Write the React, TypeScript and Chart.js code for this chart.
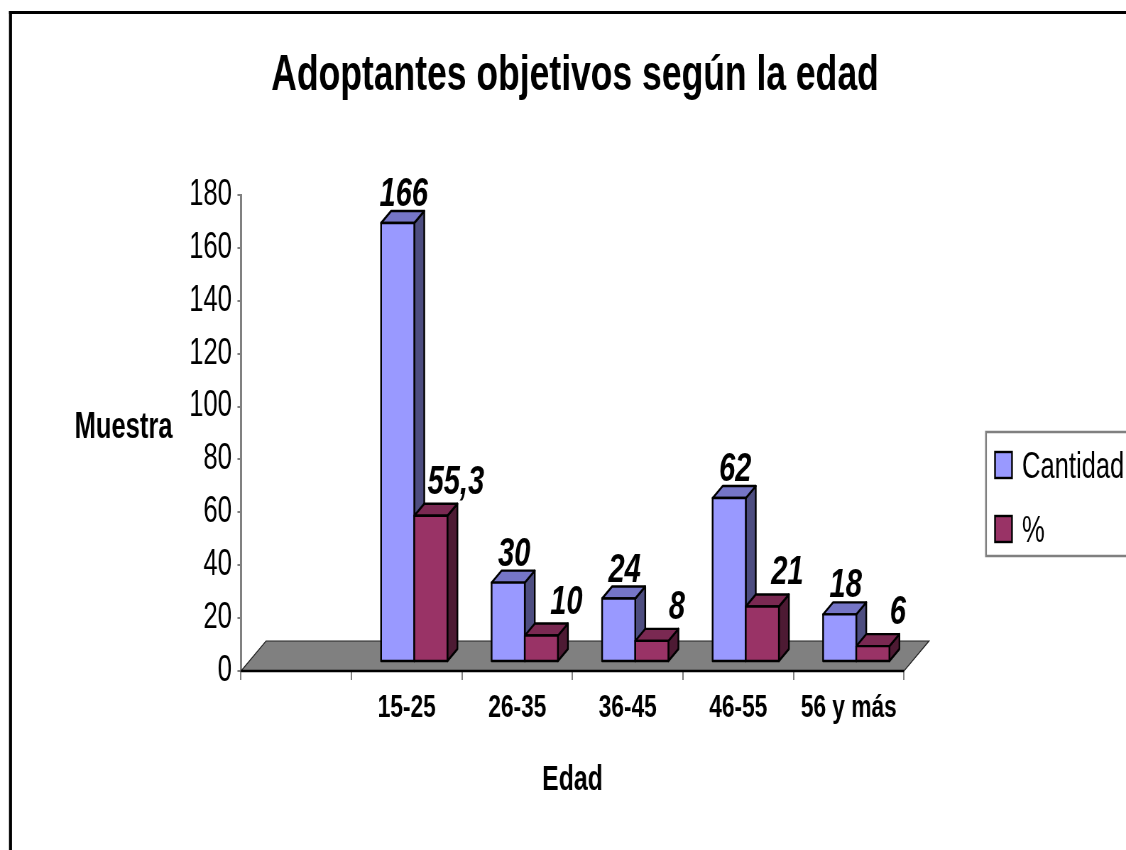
import React, { useEffect, useRef } from 'react';
import { Chart, registerables } from 'chart.js';

Chart.register(...registerables);

// ---- data ----
const categories = ['', '15-25', '26-35', '36-45', '46-55', '56 y más'];
const cantidad = [null, 166, 30, 24, 62, 18];
const porcentaje = [null, 55.3, 10, 8, 21, 6];
const seriesNames = ['Cantidad', '%'];
const yMin = 0;
const yMax = 180;
const yStep = 20;
const chartTitle = 'Adoptantes objetivos según la edad';
const yTitle = 'Muestra';
const xTitle = 'Edad';

// ---- look ----
const OUT_W = 1126;
const OUT_H = 850;
const CANVAS_W = 1586;
const CANVAS_H = 850;
const SX = OUT_W / CANVAS_W;
const kx = CANVAS_W / OUT_W;
const FONT = '"Liberation Sans", Arial, Helvetica, sans-serif';

const FLOOR_DX = 25 * kx;
const FLOOR_DY = -30;
const BAR_FRONT = 0.3;
const BAR_DEPTH = 0.4;

const faceColors = [
  { front: '#9999FF', top: '#7575C6', side: '#4D4D80' },
  { front: '#993366', top: '#7A2952', side: '#4D1A33' },
];
const labelShift = [6 * kx, 25 * kx];
const labelGap = [5, 10];

function fmt(v: number) {
  return String(v).replace('.', ',');
}

function drawText(ctx: CanvasRenderingContext2D, text: string, x: number, y: number, font: string, align: CanvasTextAlign) {
  ctx.font = font;
  ctx.textAlign = align;
  ctx.textBaseline = 'alphabetic';
  ctx.fillStyle = '#000';
  ctx.fillText(text, x, y);
}

const excel3d = {
  id: 'excel3d',
  beforeDraw(chart: any) {
    const ctx = chart.ctx as CanvasRenderingContext2D;
    ctx.save();
    ctx.fillStyle = '#fff';
    ctx.fillRect(0, 0, chart.width, chart.height);
    ctx.fillStyle = '#000';
    ctx.fillRect(9 * kx, 11, CANVAS_W, 3);
    ctx.fillRect(9 * kx, 11, 3 * kx, CANVAS_H);
    ctx.restore();
  },
  beforeDatasetDraw() {
    return false;
  },
  afterDatasetsDraw(chart: any) {
    const ctx = chart.ctx as CanvasRenderingContext2D;
    const ca = chart.chartArea;
    ctx.save();
    // floor
    ctx.beginPath();
    ctx.moveTo(ca.left, ca.bottom);
    ctx.lineTo(ca.left + FLOOR_DX, ca.bottom + FLOOR_DY);
    ctx.lineTo(ca.right + FLOOR_DX, ca.bottom + FLOOR_DY);
    ctx.lineTo(ca.right, ca.bottom);
    ctx.closePath();
    ctx.fillStyle = '#808080';
    ctx.fill();
    ctx.lineWidth = 1.2;
    ctx.strokeStyle = '#222';
    ctx.stroke();
    ctx.beginPath();
    ctx.moveTo(ca.left, ca.bottom);
    ctx.lineTo(ca.right, ca.bottom);
    ctx.lineWidth = 2.5;
    ctx.strokeStyle = '#000';
    ctx.stroke();

    const fx = FLOOR_DX * BAR_FRONT;
    const fy = FLOOR_DY * BAR_FRONT;
    const bx = FLOOR_DX * BAR_DEPTH;
    const by = FLOOR_DY * BAR_DEPTH;
    const n = chart.data.labels.length;
    const nd = chart.data.datasets.length;
    const labels: any[] = [];
    ctx.lineJoin = 'round';
    for (let i = 0; i < n; i++) {
      for (let d = 0; d < nd; d++) {
        const v = chart.data.datasets[d].data[i];
        const el = chart.getDatasetMeta(d).data[i];
        if (v == null || !el) continue;
        const p = el.getProps(['x', 'y', 'base', 'width'], true);
        const l = p.x - p.width / 2 + fx;
        const r = p.x + p.width / 2 + fx;
        const t = p.y + fy;
        const b = p.base + fy;
        const c = faceColors[d];
        ctx.lineWidth = 2.4;
        ctx.strokeStyle = '#000';
        // side
        ctx.beginPath();
        ctx.moveTo(r, t);
        ctx.lineTo(r + bx, t + by);
        ctx.lineTo(r + bx, b + by);
        ctx.lineTo(r, b);
        ctx.closePath();
        ctx.fillStyle = c.side;
        ctx.fill();
        ctx.stroke();
        // top
        ctx.beginPath();
        ctx.moveTo(l, t);
        ctx.lineTo(l + bx, t + by);
        ctx.lineTo(r + bx, t + by);
        ctx.lineTo(r, t);
        ctx.closePath();
        ctx.fillStyle = c.top;
        ctx.fill();
        ctx.stroke();
        // front
        ctx.beginPath();
        ctx.rect(l, t, r - l, b - t);
        ctx.fillStyle = c.front;
        ctx.fill();
        ctx.stroke();
        labels.push({ text: fmt(v), x: (l + r) / 2 + labelShift[d], y: t + by - labelGap[d] });
      }
    }
    for (const lb of labels) {
      drawText(ctx, lb.text, lb.x, lb.y, `italic bold 41px ${FONT}`, 'center');
    }
    ctx.restore();
  },
  afterDraw(chart: any) {
    const ctx = chart.ctx as CanvasRenderingContext2D;
    const ca = chart.chartArea;
    ctx.save();
    drawText(ctx, chartTitle, 575 * kx, 90, `bold 50px ${FONT}`, 'center');
    drawText(ctx, yTitle, 123.5 * kx, 438, `bold 36px ${FONT}`, 'center');
    drawText(ctx, xTitle, (ca.left + ca.right) / 2, 790, `bold 35px ${FONT}`, 'center');
    // legend
    const lx = 986 * kx;
    ctx.strokeStyle = '#808080';
    ctx.lineWidth = 2.5;
    ctx.strokeRect(lx, 432, CANVAS_W, 124);
    const rows = [465, 529];
    chart.data.datasets.forEach((ds: any, d: number) => {
      const cy = rows[d];
      ctx.fillStyle = faceColors[d].front;
      ctx.fillRect(995 * kx, cy - 13, 17 * kx, 26);
      ctx.lineWidth = 2.4;
      ctx.strokeStyle = '#000';
      ctx.strokeRect(995 * kx, cy - 13, 17 * kx, 26);
      drawText(ctx, ds.label, 1022 * kx, cy + 13, `36px ${FONT}`, 'left');
    });
    ctx.restore();
  },
};

export default function App() {
  const ref = useRef<HTMLCanvasElement | null>(null);
  useEffect(() => {
    const canvas = ref.current;
    if (!canvas) return;
    const chart = new Chart(canvas, {
      type: 'bar',
      data: {
        labels: categories,
        datasets: [
          { label: seriesNames[0], data: cantidad, backgroundColor: faceColors[0].front },
          { label: seriesNames[1], data: porcentaje, backgroundColor: faceColors[1].front },
        ],
      },
      options: {
        responsive: false,
        animation: false,
        devicePixelRatio: 1,
        layout: { padding: { left: 0, top: 195, right: CANVAS_W - 904 * kx, bottom: 0 } },
        datasets: { bar: { barPercentage: 1, categoryPercentage: 0.6 } },
        plugins: { legend: { display: false }, title: { display: false }, tooltip: { enabled: false } },
        scales: {
          x: {
            type: 'category',
            offset: true,
            grid: { offset: true, drawOnChartArea: false, drawTicks: true, tickLength: 9, color: '#808080', lineWidth: 2 },
            border: { display: false },
            ticks: { autoSkip: false, maxRotation: 0, padding: 9, color: '#000', font: { family: FONT, size: 32, weight: 'bold' } },
            afterFit: (s: any) => { s.height = CANVAS_H - 671; },
          },
          y: {
            min: yMin,
            max: yMax,
            grid: { drawOnChartArea: false, drawTicks: true, tickLength: 5, color: '#808080', lineWidth: 2 },
            border: { display: true, color: '#808080', width: 3 },
            ticks: { stepSize: yStep, padding: 8, color: '#000', font: { family: FONT, size: 36 } },
            afterFit: (s: any) => { s.width = 241 * kx; },
          },
        },
      } as any,
      plugins: [excel3d],
    });
    return () => chart.destroy();
  }, []);
  return (
    <div style={{ position: 'absolute', left: 0, top: 0, width: OUT_W, height: OUT_H, overflow: 'hidden', background: '#fff' }}>
      <div style={{ width: CANVAS_W, height: CANVAS_H, transform: `scaleX(${SX})`, transformOrigin: '0 0' }}>
        <canvas ref={ref} width={CANVAS_W} height={CANVAS_H} style={{ display: 'block', width: CANVAS_W, height: CANVAS_H }} />
      </div>
    </div>
  );
}
